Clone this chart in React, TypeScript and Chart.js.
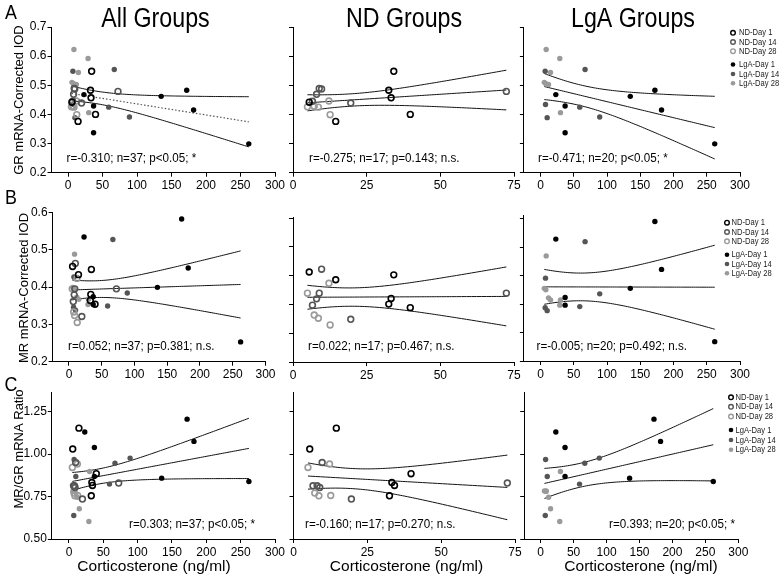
import React, { useEffect, useRef } from "react";
import { Chart, registerables } from "chart.js";
Chart.register(...registerables);

// ---------------- DATA ----------------
// ND groups (open circles)
const ndDay1Cort = [5.5, 14.5, 32.5, 33.3, 34.2, 39.8];
const ndDay1GR = [0.442, 0.376, 0.483, 0.457, 0.548, 0.4];
const ndDay1MR = [0.455, 0.433, 0.364, 0.38, 0.447, 0.354];
const ndDay1Ratio = [1.029, 1.152, 0.754, 0.832, 0.815, 0.884];

const ndDay14Cort = [6.6, 8.0, 8.9, 9.7, 19.6, 72.4];
const ndDay14GR = [0.445, 0.469, 0.489, 0.487, 0.439, 0.479];
const ndDay14MR = [0.361, 0.379, 0.395, 0.463, 0.321, 0.395];
const ndDay14Ratio = [0.813, 0.813, 0.803, 0.95, 0.735, 0.829];

const ndDay28Cort = [4.9, 7.2, 8.6, 12.2, 12.6];
const ndDay28GR = [0.426, 0.428, 0.425, 0.446, 0.399];
const ndDay28MR = [0.395, 0.333, 0.324, 0.423, 0.305];
const ndDay28Ratio = [0.921, 0.77, 0.754, 0.941, 0.756];

// LgA groups (filled circles)
const lgaDay1Cort = [23, 37, 37, 135, 172, 182, 262];
const lgaDay1GR = [0.468, 0.429, 0.337, 0.462, 0.483, 0.415, 0.299];
const lgaDay1MR = [0.534, 0.374, 0.353, 0.399, 0.582, 0.451, 0.253];
const lgaDay1Ratio = [1.129, 0.868, 1.038, 0.858, 1.205, 1.074, 0.838];

const lgaDay14Cort = [7.5, 10, 7, 59, 67, 89];
const lgaDay14GR = [0.434, 0.389, 0.548, 0.425, 0.554, 0.391];
const lgaDay14MR = [0.427, 0.338, 0.346, 0.349, 0.527, 0.384];
const lgaDay14Ratio = [0.968, 0.868, 0.638, 0.823, 0.946, 0.976];

const lgaDay28Cort = [8.5, 29, 30, 15, 5.7, 12, 8];
const lgaDay28GR = [0.623, 0.592, 0.406, 0.544, 0.51, 0.503, 0.505];
const lgaDay28MR = [0.488, 0.353, 0.367, 0.367, 0.399, 0.373, 0.395];
const lgaDay28Ratio = [0.783, 0.603, 0.897, 0.678, 0.783, 0.746, 0.78];

const groupNames = ["ND-Day 1", "ND-Day 14", "ND-Day 28", "LgA-Day 1", "LgA-Day 14", "LgA-Day 28"];
const columnTitles = ["All Groups", "ND Groups", "LgA Groups"];
const rowLetters = ["A", "B", "C"];
const yAxisTitles = ["GR mRNA-Corrected IOD", "MR mRNA-Corrected IOD", "MR/GR mRNA Ratio"];
const xAxisTitle = "Corticosterone (ng/ml)";
const statLabels = [
  "r=-0.310; n=37; p<0.05; *",
  "r=-0.275; n=17; p=0.143; n.s.",
  "r=-0.471; n=20; p<0.05; *",
  "r=0.052; n=37; p=0.381; n.s.",
  "r=0.022; n=17; p=0.467; n.s.",
  "r=-0.005; n=20; p=0.492; n.s.",
  "r=0.303; n=37; p<0.05; *",
  "r=-0.160; n=17; p=0.270; n.s.",
  "r=0.393; n=20; p<0.05; *",
];
const xTicksAll = [0, 50, 100, 150, 200, 250, 300];
const xTicksND = [0, 25, 50, 75];
const yTicksGR = [0.2, 0.3, 0.4, 0.5, 0.6, 0.7];
const yTicksMR = [0.2, 0.3, 0.4, 0.5, 0.6];
const yTicksMR2 = [0.2, 0.2815, 0.363, 0.4445, 0.526, 0.6075];
const yTicksMR3 = [0.2, 0.278, 0.356, 0.434, 0.512, 0.59];
const yTicksRatio = [0.5, 0.75, 1.0, 1.25];

// ---------------- STYLE ----------------
const SANS = "'Liberation Sans', Arial, Helvetica, sans-serif";
const groupColors = ["#000000", "#555555", "#9a9a9a", "#000000", "#555555", "#9a9a9a"];
const W = 782;
const H = 582;

type Series = { cort: number[]; vals: number[][] };
const groups: Series[] = [
  { cort: ndDay1Cort, vals: [ndDay1GR, ndDay1MR, ndDay1Ratio] },
  { cort: ndDay14Cort, vals: [ndDay14GR, ndDay14MR, ndDay14Ratio] },
  { cort: ndDay28Cort, vals: [ndDay28GR, ndDay28MR, ndDay28Ratio] },
  { cort: lgaDay1Cort, vals: [lgaDay1GR, lgaDay1MR, lgaDay1Ratio] },
  { cort: lgaDay14Cort, vals: [lgaDay14GR, lgaDay14MR, lgaDay14Ratio] },
  { cort: lgaDay28Cort, vals: [lgaDay28GR, lgaDay28MR, lgaDay28Ratio] },
];

type TextItem = { text: string; x: number; y: number; font: string; align?: CanvasTextAlign; rot?: number; sx?: number };
type Panel = {
  row: number;
  col: number;
  area: { l: number; r: number; t: number; b: number };
  xr: [number, number];
  yr: [number, number];
  xt: number[];
  yt: number[];
  yLabels: boolean;
  yDec: number;
  stat: { x: number; y: number; align: CanvasTextAlign };
  legend?: { mx: number; tx: number; ys: number[] };
  dottedFit?: boolean;
  texts: TextItem[];
};

const rowAreasY = [
  [{ t: 27, b: 172.7 }, { t: 27, b: 172.7 }, { t: 27, b: 172.7 }],
  [{ t: 212.3, b: 361.7 }, { t: 217.3, b: 362 }, { t: 215, b: 361 }],
  [{ t: 392.8, b: 539 }, { t: 392.8, b: 539 }, { t: 392.8, b: 539 }],
];
const colAreasX = [
  [{ l: 51.5, r: 275 }, { l: 293, r: 514 }, { l: 523.9, r: 740 }],
  [{ l: 52.6, r: 265.5 }, { l: 293, r: 514 }, { l: 523.9, r: 740 }],
  [{ l: 51.8, r: 275 }, { l: 293.5, r: 515 }, { l: 524.2, r: 738.3 }],
];
const xRanges: [number, number][][] = [
  [[-24, 300], [0, 75], [-25, 300]],
  [[-25, 300], [0, 75], [-25, 300]],
  [[-25, 300], [0, 75], [-25, 300]],
];
const yRanges: [number, number][][] = [
  [[0.2, 0.7], [0.2, 0.7], [0.2, 0.7]],
  [[0.2, 0.6], [0.2, 0.61], [0.2, 0.6]],
  [[0.5, 1.36], [0.5, 1.36], [0.5, 1.36]],
];
const yTickSets = [
  [yTicksGR, yTicksGR, yTicksGR],
  [yTicksMR, yTicksMR2, yTicksMR3],
  [yTicksRatio, yTicksRatio, yTicksRatio],
];
const statPos: { x: number; y: number; align: CanvasTextAlign }[] = [
  { x: 66.5, y: 158.5, align: "left" },
  { x: 309, y: 158.5, align: "left" },
  { x: 538, y: 158.5, align: "left" },
  { x: 68, y: 347, align: "left" },
  { x: 308, y: 347, align: "left" },
  { x: 536.5, y: 347, align: "left" },
  { x: 255, y: 525, align: "right" },
  { x: 305, y: 525, align: "left" },
  { x: 735, y: 524.5, align: "right" },
];
const legendPos = [
  { mx: 733, tx: 739, ys: [32.8, 42, 51.2, 64.5, 74, 83.3] },
  { mx: 727, tx: 731.5, ys: [222.7, 232, 241.3, 254.7, 264, 273.2] },
  { mx: 731, tx: 735.5, ys: [397.3, 406.8, 416.5, 430, 440, 449.7] },
];

const panels: Panel[] = [];
for (let row = 0; row < 3; row++) {
  for (let col = 0; col < 3; col++) {
    const texts: TextItem[] = [];
    if (col === 0) {
      texts.push({ text: rowLetters[row], x: 11, y: [13, 198, 385][row], font: `21px ${SANS}`, sx: 0.85 });
      texts.push({
        text: yAxisTitles[row],
        x: [19, 24, 19][row],
        y: [100, 288, 449][row],
        font: `13px ${SANS}`,
        rot: -Math.PI / 2,
      });
    }
    if (row === 0) {
      texts.push({ text: columnTitles[col], x: [155.5, 404, 633][col], y: 20, font: `27px ${SANS}`, sx: 0.86 });
    }
    if (row === 2) {
      texts.push({ text: xAxisTitle, x: [154, 406.5, 641][col], y: 567, font: `15.5px ${SANS}` });
    }
    panels.push({
      row,
      col,
      area: { ...colAreasX[row][col], ...rowAreasY[row][col] },
      xr: xRanges[row][col],
      yr: yRanges[row][col],
      xt: col === 1 ? xTicksND : xTicksAll,
      yt: yTickSets[row][col],
      yLabels: col === 0,
      yDec: row === 2 ? 2 : 1,
      stat: statPos[row * 3 + col],
      legend: col === 2 ? legendPos[row] : undefined,
      dottedFit: row === 0 && col === 0,
      texts,
    });
  }
}

function tCrit(df: number) {
  const z = 1.959964;
  const z3 = z ** 3, z5 = z ** 5, z7 = z ** 7;
  return (
    z +
    (z3 + z) / (4 * df) +
    (5 * z5 + 16 * z3 + 3 * z) / (96 * df * df) +
    (3 * z7 + 19 * z5 + 17 * z3 - 15 * z) / (384 * df ** 3)
  );
}

function regression(xs: number[], ys: number[]) {
  const n = xs.length;
  const mx = xs.reduce((a, b) => a + b, 0) / n;
  const my = ys.reduce((a, b) => a + b, 0) / n;
  let sxx = 0, sxy = 0;
  for (let i = 0; i < n; i++) {
    sxx += (xs[i] - mx) ** 2;
    sxy += (xs[i] - mx) * (ys[i] - my);
  }
  const b = sxy / sxx;
  const a = my - b * mx;
  let sse = 0;
  for (let i = 0; i < n; i++) sse += (ys[i] - (a + b * xs[i])) ** 2;
  const s = Math.sqrt(sse / (n - 2));
  const t = tCrit(n - 2);
  const x0 = Math.min(...xs), x1 = Math.max(...xs);
  const mid: { x: number; y: number }[] = [];
  const up: { x: number; y: number }[] = [];
  const lo: { x: number; y: number }[] = [];
  const steps = 80;
  for (let i = 0; i <= steps; i++) {
    const x = x0 + ((x1 - x0) * i) / steps;
    const yh = a + b * x;
    const se = s * Math.sqrt(1 / n + (x - mx) ** 2 / sxx);
    mid.push({ x, y: yh });
    up.push({ x, y: yh + t * se });
    lo.push({ x, y: yh - t * se });
  }
  return { mid, up, lo };
}

function drawItem(ctx: CanvasRenderingContext2D, it: TextItem, color = "#000") {
  ctx.save();
  ctx.font = it.font;
  ctx.fillStyle = color;
  ctx.textAlign = it.align || "center";
  ctx.textBaseline = "middle";
  ctx.translate(it.x, it.y);
  if (it.rot) ctx.rotate(it.rot);
  if (it.sx) ctx.scale(it.sx, 1);
  ctx.fillText(it.text, 0, 0);
  ctx.restore();
}

function drawTexts(ctx: CanvasRenderingContext2D, p: Panel, idx: number) {
  for (const it of p.texts) drawItem(ctx, it);
  drawItem(ctx, { text: statLabels[idx], x: p.stat.x, y: p.stat.y, font: `12px ${SANS}`, align: p.stat.align, sx: 0.97 });
  if (p.legend) {
    const lg = p.legend;
    for (let g = 0; g < 6; g++) {
      const y = lg.ys[g];
      ctx.save();
      if (g < 3) {
        ctx.strokeStyle = groupColors[g];
        ctx.lineWidth = 1.4;
        ctx.beginPath();
        ctx.arc(lg.mx, y, 2.3, 0, Math.PI * 2);
        ctx.stroke();
      } else {
        ctx.fillStyle = groupColors[g];
        ctx.beginPath();
        ctx.arc(lg.mx, y, 2.3, 0, Math.PI * 2);
        ctx.fill();
      }
      ctx.restore();
      drawItem(ctx, { text: groupNames[g], x: lg.tx, y, font: `9.5px ${SANS}`, align: "left", sx: 0.8 }, "#222");
    }
  }
}

function makeChart(canvas: HTMLCanvasElement, p: Panel, idx: number) {
  const m = p.row;
  const gIdx = p.col === 0 ? [0, 1, 2, 3, 4, 5] : p.col === 1 ? [0, 1, 2] : [3, 4, 5];
  const datasets: any[] = [];
  const allX: number[] = [];
  const allY: number[] = [];
  for (const g of gIdx) {
    const s = groups[g];
    const data = s.cort.map((c, i) => ({ x: c, y: s.vals[m][i] }));
    s.cort.forEach((c, i) => {
      allX.push(c);
      allY.push(s.vals[m][i]);
    });
    const open = g < 3;
    datasets.push({
      label: groupNames[g],
      data,
      order: 0,
      pointStyle: "circle",
      pointRadius: open ? 2.9 : 2.7,
      pointBorderWidth: open ? 1.6 : 0,
      pointBorderColor: groupColors[g],
      pointBackgroundColor: open ? "rgba(255,255,255,0)" : groupColors[g],
      borderColor: groupColors[g],
      backgroundColor: open ? "rgba(255,255,255,0)" : groupColors[g],
    });
  }
  const fit = regression(allX, allY);
  const lineBase = { showLine: true, pointRadius: 0, borderWidth: 1, tension: 0, order: 1, fill: false };
  datasets.push({ ...lineBase, label: "upper", data: fit.up, borderColor: "#111" });
  datasets.push({ ...lineBase, label: "lower", data: fit.lo, borderColor: "#111" });
  datasets.push({
    ...lineBase,
    label: "fit",
    data: fit.mid,
    borderColor: p.dottedFit ? "#555" : "#111",
    borderDash: p.dottedFit ? [1.5, 2] : [],
    borderWidth: p.dottedFit ? 1.2 : 1,
  });

  const Wy = 40;
  const Hx = 30;
  const a = p.area;
  const axisFont = { family: SANS, size: 12 };
  const plugin = {
    id: "panelText" + idx,
    afterDraw(chart: any) {
      drawTexts(chart.ctx, p, idx);
    },
  };
  return new Chart(canvas, {
    type: "scatter",
    data: { datasets },
    options: {
      animation: false,
      responsive: false,
      events: [],
      layout: {
        autoPadding: false,
        padding: { left: a.l - Wy, right: W - a.r, top: a.t, bottom: H - a.b - Hx },
      },
      plugins: { legend: { display: false }, tooltip: { enabled: false }, title: { display: false } },
      scales: {
        x: {
          type: "linear",
          min: p.xr[0],
          max: p.xr[1],
          afterBuildTicks: (s: any) => {
            s.ticks = p.xt.map((v) => ({ value: v }));
          },
          afterFit: (s: any) => {
            s.height = Hx;
          },
          ticks: {
            callback: (v: any) => String(v),
            color: "#000",
            font: axisFont,
            padding: 2,
            maxRotation: 0,
            autoSkip: false,
          },
          grid: { display: true, drawOnChartArea: false, drawTicks: true, tickLength: 4, color: "#000", lineWidth: 1 },
          border: { display: true, color: "#000", width: 1 },
        },
        y: {
          type: "linear",
          min: p.yr[0],
          max: p.yr[1],
          afterBuildTicks: (s: any) => {
            s.ticks = p.yt.map((v) => ({ value: v }));
          },
          afterFit: (s: any) => {
            s.width = Wy;
          },
          ticks: {
            callback: (v: any) => (p.yLabels ? Number(v).toFixed(p.yDec) : ""),
            color: "#000",
            font: axisFont,
            padding: 1,
            autoSkip: false,
          },
          grid: { display: true, drawOnChartArea: false, drawTicks: true, tickLength: 4, color: "#000", lineWidth: 1 },
          border: { display: true, color: "#000", width: 1 },
        },
      },
    },
    plugins: [plugin],
  } as any);
}

export default function App() {
  const refs = useRef<(HTMLCanvasElement | null)[]>([]);
  useEffect(() => {
    const charts = panels.map((p, i) => makeChart(refs.current[i] as HTMLCanvasElement, p, i));
    return () => charts.forEach((c) => c.destroy());
  }, []);
  return (
    <div style={{ position: "absolute", left: 0, top: 0, width: W, height: H, background: "#fff", overflow: "hidden" }}>
      {panels.map((_, i) => (
        <canvas
          key={i}
          ref={(el) => {
            refs.current[i] = el;
          }}
          width={W}
          height={H}
          style={{ position: "absolute", left: 0, top: 0, width: W, height: H }}
        />
      ))}
    </div>
  );
}
